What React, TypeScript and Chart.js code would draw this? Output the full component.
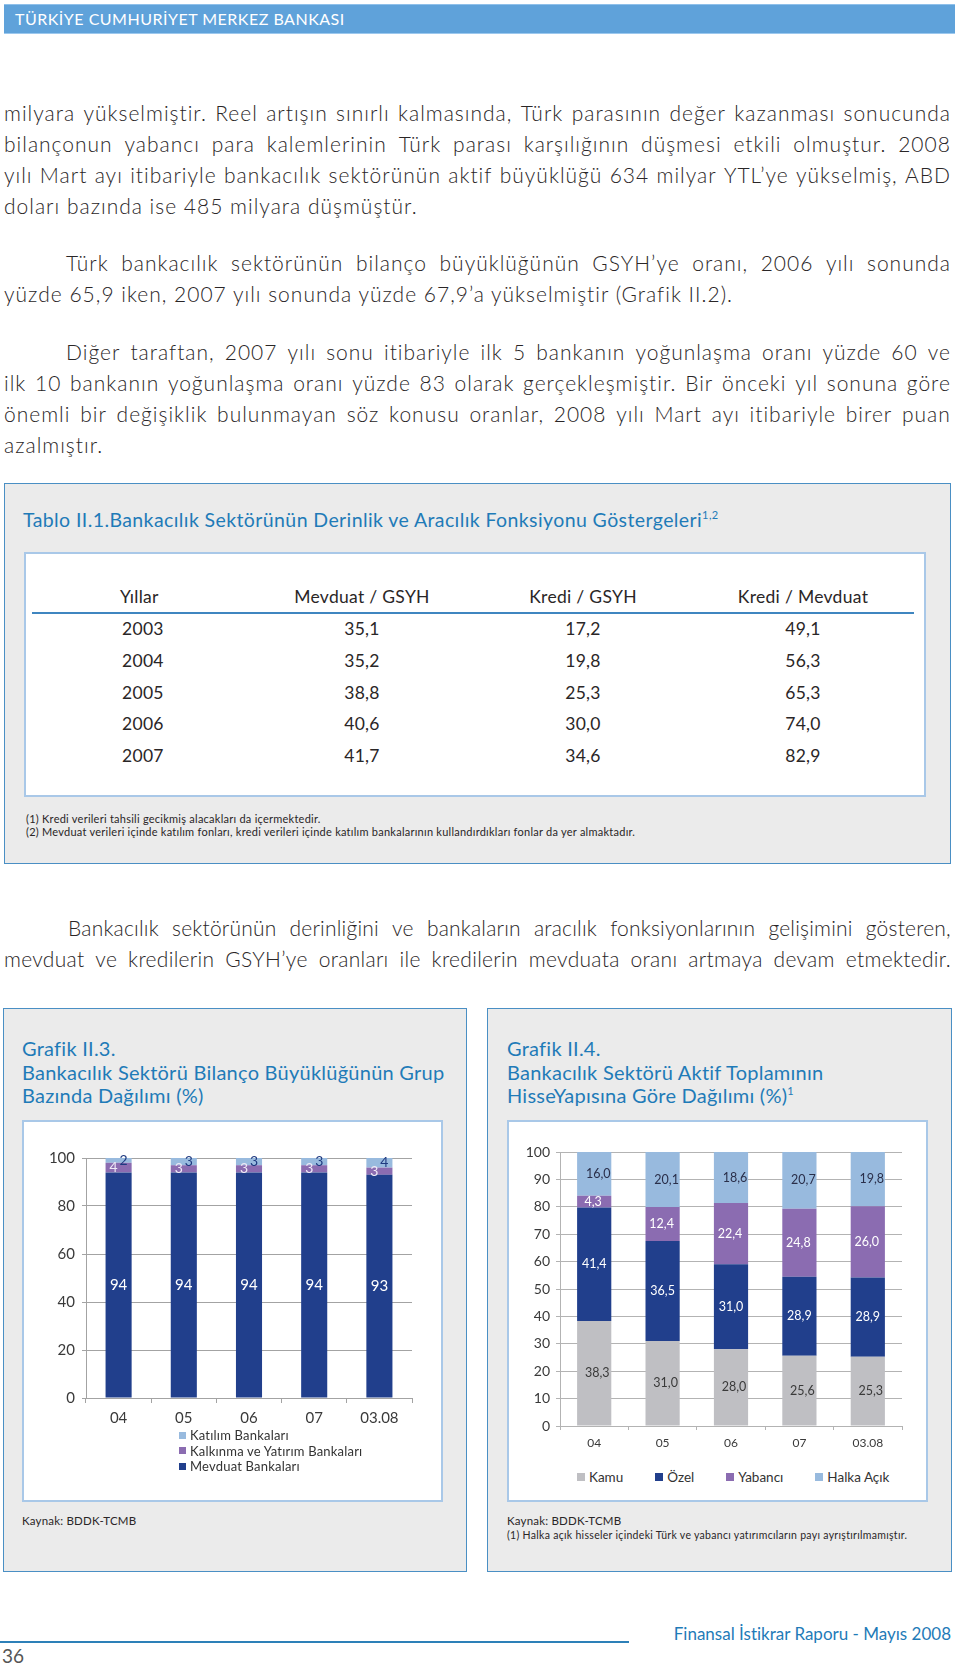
import React, { useEffect, useRef } from 'react';
import { Chart, registerables } from 'chart.js';

Chart.register(...registerables);

const FONT = 'Lato, "Open Sans", sans-serif';

// ---------- Table data ----------
const tableYears = ['2003', '2004', '2005', '2006', '2007'];
const mevduatGsyh = [35.1, 35.2, 38.8, 40.6, 41.7];
const krediGsyh = [17.2, 19.8, 25.3, 30.0, 34.6];
const krediMevduat = [49.1, 56.3, 65.3, 74.0, 82.9];
const tableHeaders = ['Yıllar', 'Mevduat / GSYH', 'Kredi / GSYH', 'Kredi / Mevduat'];

// ---------- Grafik II.3 data ----------
const leftCategories = ['04', '05', '06', '07', '03.08'];
const leftSeriesNames = ['Mevduat Bankaları', 'Kalkınma ve Yatırım Bankaları', 'Katılım Bankaları'];
const mevduatBankalari = [94, 94, 94, 94, 93];
const kalkinmaYatirim = [4, 3, 3, 3, 3];
const katilimBankalari = [2, 3, 3, 3, 4];
const leftYTicks = [0, 20, 40, 60, 80, 100];

// ---------- Grafik II.4 data ----------
const rightCategories = ['04', '05', '06', '07', '03.08'];
const rightSeriesNames = ['Kamu', 'Özel', 'Yabancı', 'Halka Açık'];
const kamu = [38.3, 31.0, 28.0, 25.6, 25.3];
const ozel = [41.4, 36.5, 31.0, 28.9, 28.9];
const yabanci = [4.3, 12.4, 22.4, 24.8, 26.0];
const halkaAcik = [16.0, 20.1, 18.6, 20.7, 19.8];
const rightYTicks = [0, 10, 20, 30, 40, 50, 60, 70, 80, 90, 100];

// ---------- colours ----------
const NAVY = '#213f8c';
const PURPLE = '#8b6cb1';
const LIGHTBLUE = '#98bade';
const GRAY = '#bfbfc3';
const TEAL = '#1f7bb8';
const BOXBORDER = '#4a8fc4';
const TEXT = '#2a2627';

const fmtComma = (v: number) => v.toFixed(1).replace('.', ',');

function makeLabelPlugin(style: { colors: string[]; dx: number[]; size: number[]; fmt: (v: number) => string }) {
  return {
    id: 'barLabels',
    afterDatasetsDraw(chart: any) {
      const ctx = chart.ctx;
      chart.data.datasets.forEach((ds: any, i: number) => {
        const meta = chart.getDatasetMeta(i);
        meta.data.forEach((bar: any, j: number) => {
          const v = ds.data[j];
          const p = bar.getProps(['x', 'y', 'base'], true);
          ctx.save();
          ctx.font = `${style.size[i]}px ${FONT}`;
          ctx.fillStyle = style.colors[i];
          ctx.textAlign = 'center';
          ctx.textBaseline = 'middle';
          ctx.fillText(style.fmt(v), p.x + style.dx[i], (p.y + p.base) / 2);
          ctx.restore();
        });
      });
    },
  };
}

function StackedChart(props: {
  categories: string[];
  series: { label: string; data: number[]; color: string }[];
  yTicks: number[];
  width: number;
  height: number;
  padTop: number;
  padRight: number;
  yWidth: number;
  xHeight: number;
  xFont: number;
  yFont: number;
  xPad: number;
  yPad: number;
  xTickLen: number;
  yTickLen: number;
  barPct: number;
  gridColor: string;
  labelStyle: any;
}) {
  const ref = useRef<HTMLCanvasElement>(null);
  useEffect(() => {
    if (!ref.current) return;
    const yt = props.yTicks;
    const chart = new Chart(ref.current, {
      type: 'bar',
      data: {
        labels: props.categories,
        datasets: props.series.map((s) => ({
          label: s.label,
          data: s.data,
          backgroundColor: s.color,
          borderWidth: 0,
          categoryPercentage: 1,
          barPercentage: props.barPct,
        })),
      },
      options: {
        animation: false,
        responsive: false,
        maintainAspectRatio: false,
        devicePixelRatio: 1,
        layout: { padding: { top: props.padTop, right: props.padRight, left: 0, bottom: 0 } },
        plugins: { legend: { display: false }, tooltip: { enabled: false } },
        scales: {
          x: {
            stacked: true,
            grid: { drawOnChartArea: false, tickLength: props.xTickLen, color: props.gridColor, offset: true },
            border: { color: props.gridColor },
            ticks: { font: { family: FONT, size: props.xFont }, color: '#3a3a3a', padding: props.xPad, maxRotation: 0 },
            afterFit: (s: any) => {
              s.height = props.xHeight;
            },
          },
          y: {
            stacked: true,
            min: yt[0],
            max: yt[yt.length - 1],
            grid: { color: props.gridColor, tickLength: props.yTickLen },
            border: { color: props.gridColor },
            ticks: { font: { family: FONT, size: props.yFont }, color: '#3a3a3a', padding: props.yPad },
            afterBuildTicks: (s: any) => {
              s.ticks = yt.map((v) => ({ value: v }));
            },
            afterFit: (s: any) => {
              s.width = props.yWidth;
            },
          },
        },
      } as any,
      plugins: [makeLabelPlugin(props.labelStyle)],
    });
    return () => chart.destroy();
  }, []);
  return (
    <canvas
      ref={ref}
      width={props.width}
      height={props.height}
      style={{ width: props.width, height: props.height, display: 'block' }}
    />
  );
}

function Txt(props: {
  x: number;
  cy: number;
  w?: number;
  size: number;
  color?: string;
  align?: 'left' | 'center' | 'right';
  lh?: number;
  ls?: number;
  weight?: number;
  children: any;
}) {
  const lh = props.lh ?? Math.round(props.size * 1.5);
  return (
    <div
      style={{
        position: 'absolute',
        left: props.x,
        top: props.cy - lh / 2,
        width: props.w,
        height: lh,
        lineHeight: `${lh}px`,
        fontSize: props.size,
        fontFamily: FONT,
        fontWeight: props.weight ?? 400,
        letterSpacing: props.ls ?? 0,
        fontVariantLigatures: 'none',
        color: props.color ?? TEXT,
        textAlign: props.align ?? 'left',
        whiteSpace: 'nowrap',
        overflow: 'visible',
      }}
    >
      {props.children}
    </div>
  );
}

const BODY = 21;
const BODY_LS = 1.0;
const RIGHT = 951;

type PLine = { x: number; cy: number; t: string; last?: boolean; ls?: number };

function Para({ lines }: { lines: PLine[] }) {
  return (
    <>
      {lines.map((l, i) => {
        const ls = l.ls ?? BODY_LS;
        if (l.last) {
          return (
            <Txt key={i} x={l.x} cy={l.cy} size={BODY} ls={ls} weight={300} lh={30}>
              {l.t}
            </Txt>
          );
        }
        const words = l.t.split(' ');
        return (
          <div
            key={i}
            style={{
              position: 'absolute',
              left: l.x,
              top: l.cy - 15,
              width: RIGHT - l.x,
              height: 30,
              lineHeight: '30px',
              display: 'flex',
              justifyContent: 'space-between',
              fontSize: BODY,
              fontFamily: FONT,
              fontWeight: 300,
              letterSpacing: ls,
              fontVariantLigatures: 'none',
              color: TEXT,
              whiteSpace: 'nowrap',
            }}
          >
            {words.map((w, k) => (
              <span key={k}>{w}</span>
            ))}
          </div>
        );
      })}
    </>
  );
}

function Box(props: { x: number; y: number; w: number; h: number; bg: string; border: string; bw: number }) {
  return (
    <div
      style={{
        position: 'absolute',
        left: props.x,
        top: props.y,
        width: props.w,
        height: props.h,
        background: props.bg,
        border: `${props.bw}px solid ${props.border}`,
        boxSizing: 'border-box',
      }}
    />
  );
}

export default function App() {
  const colCenters = [0, 362, 583, 803];
  const rowCenters = [629, 661, 693, 724, 756];
  const leftSeries = [
    { label: leftSeriesNames[0], data: mevduatBankalari, color: NAVY },
    { label: leftSeriesNames[1], data: kalkinmaYatirim, color: PURPLE },
    { label: leftSeriesNames[2], data: katilimBankalari, color: LIGHTBLUE },
  ];
  const rightSeries = [
    { label: rightSeriesNames[0], data: kamu, color: GRAY },
    { label: rightSeriesNames[1], data: ozel, color: NAVY },
    { label: rightSeriesNames[2], data: yabanci, color: PURPLE },
    { label: rightSeriesNames[3], data: halkaAcik, color: LIGHTBLUE },
  ];
  const TITLE = 20;
  const TITLE_LS = 0.25;
  return (
    <div
      style={{
        position: 'absolute',
        left: 0,
        top: 0,
        width: 960,
        height: 1670,
        overflow: 'hidden',
        background: '#ffffff',
        fontFamily: FONT,
      }}
    >
      {/* header bar */}
      <div
        style={{
          position: 'absolute',
          left: 4,
          top: 4,
          width: 951,
          height: 30,
          background: '#5fa2da',
          borderTop: '1px solid #8fc0ea',
          borderBottom: '1px solid #9cc8ee',
          boxSizing: 'border-box',
        }}
      />
      <Txt x={15} cy={19} size={16} ls={0.5} color="#ffffff">
        TÜRKİYE CUMHURİYET MERKEZ BANKASI
      </Txt>

      <Para
        lines={[
          { x: 4, cy: 113, t: 'milyara yükselmiştir. Reel artışın sınırlı kalmasında, Türk parasının değer kazanması sonucunda' },
          { x: 4, cy: 144, t: 'bilançonun yabancı para kalemlerinin Türk parası karşılığının düşmesi etkili olmuştur. 2008' },
          { x: 4, cy: 175, t: 'yılı Mart ayı itibariyle bankacılık sektörünün aktif büyüklüğü 634 milyar YTL’ye yükselmiş, ABD' },
          { x: 4, cy: 206, t: 'doları bazında ise 485 milyara düşmüştür.', last: true },
          { x: 66, cy: 263, t: 'Türk bankacılık sektörünün bilanço büyüklüğünün GSYH’ye oranı, 2006 yılı sonunda' },
          { x: 4, cy: 294, t: 'yüzde 65,9 iken, 2007 yılı sonunda yüzde 67,9’a yükselmiştir (Grafik II.2).', last: true },
          { x: 66, cy: 352, t: 'Diğer taraftan, 2007 yılı sonu itibariyle ilk 5 bankanın yoğunlaşma oranı yüzde 60 ve' },
          { x: 4, cy: 383, t: 'ilk 10 bankanın yoğunlaşma oranı yüzde 83 olarak gerçekleşmiştir. Bir önceki yıl sonuna göre' },
          { x: 4, cy: 414, t: 'önemli bir değişiklik bulunmayan söz konusu oranlar, 2008 yılı Mart ayı itibariyle birer puan' },
          { x: 4, cy: 445, t: 'azalmıştır.', last: true },
        ]}
      />

      {/* Table box */}
      <Box x={4} y={483} w={947} h={381} bg="#ebebeb" border={BOXBORDER} bw={1.5} />
      <Txt x={23} cy={519} size={19.5} ls={0.4} color={TEAL}>
        Tablo II.1.Bankacılık Sektörünün Derinlik ve Aracılık Fonksiyonu Göstergeleri
        <sup style={{ fontSize: 11, verticalAlign: 'top', lineHeight: '20px' }}>1,2</sup>
      </Txt>
      <Box x={24} y={552} w={902} h={245} bg="#ffffff" border="#a9c8e8" bw={2} />
      <Txt x={120} cy={597} size={17.5} ls={0.3}>
        {tableHeaders[0]}
      </Txt>
      {tableHeaders.slice(1).map((h, i) => (
        <Txt key={h} x={colCenters[i + 1] - 100} w={200} cy={597} size={17.5} ls={0.3} align="center">
          {h}
        </Txt>
      ))}
      <div style={{ position: 'absolute', left: 32, top: 612, width: 882, height: 2, background: '#3f86c0' }} />
      {tableYears.map((y, r) => (
        <React.Fragment key={y}>
          <Txt x={122} cy={rowCenters[r]} size={17.5} ls={0.3}>
            {y}
          </Txt>
          {[mevduatGsyh, krediGsyh, krediMevduat].map((arr, c) => (
            <Txt key={c} x={colCenters[c + 1] - 100} w={200} cy={rowCenters[r]} size={17.5} ls={0.3} align="center">
              {fmtComma(arr[r])}
            </Txt>
          ))}
        </React.Fragment>
      ))}
      <Txt x={26} cy={818} size={11} ls={0.25} lh={13}>
        (1) Kredi verileri tahsili gecikmiş alacakları da içermektedir.
      </Txt>
      <Txt x={26} cy={831} size={11} ls={0.25} lh={13}>
        (2) Mevduat verileri içinde katılım fonları, kredi verileri içinde katılım bankalarının kullandırdıkları fonlar da yer almaktadır.
      </Txt>

      <Para
        lines={[
          { x: 68, cy: 928, ls: 0.2, t: 'Bankacılık sektörünün derinliğini ve bankaların aracılık fonksiyonlarının gelişimini gösteren,' },
          { x: 4, cy: 959, ls: 0.3, t: 'mevduat ve kredilerin GSYH’ye oranları ile kredilerin mevduata oranı artmaya devam etmektedir.' },
        ]}
      />

      {/* Left chart box */}
      <Box x={3} y={1008} w={464} h={564} bg="#ebebeb" border={BOXBORDER} bw={1.5} />
      <Txt x={22} cy={1048} size={TITLE} ls={TITLE_LS} color={TEAL} lh={24}>
        Grafik II.3.
      </Txt>
      <Txt x={22} cy={1072} size={TITLE} ls={TITLE_LS} color={TEAL} lh={24}>
        Bankacılık Sektörü Bilanço Büyüklüğünün Grup
      </Txt>
      <Txt x={22} cy={1095} size={TITLE} ls={TITLE_LS} color={TEAL} lh={24}>
        Bazında Dağılımı (%)
      </Txt>
      <Box x={22} y={1120} w={421} h={382} bg="#ffffff" border="#a9c8e8" bw={2} />
      <div style={{ position: 'absolute', left: 23, top: 1122 }}>
        <StackedChart
          categories={leftCategories}
          series={leftSeries}
          yTicks={leftYTicks}
          width={418}
          height={316}
          padTop={36}
          padRight={29}
          yWidth={63}
          xHeight={40}
          xFont={15}
          yFont={15}
          xPad={6}
          yPad={7}
          xTickLen={5}
          yTickLen={4}
          barPct={0.4}
          gridColor="#a3a3a3"
          labelStyle={{
            colors: ['#ffffff', '#efe9f6', '#1f3a80'],
            dx: [0, -5, 5],
            size: [15, 14, 14],
            fmt: (v: number) => String(v),
          }}
        />
      </div>
      {leftSeries
        .slice()
        .reverse()
        .map((s, i) => (
          <div
            key={s.label}
            style={{ position: 'absolute', left: 179, top: 1435 + i * 15.5 - 8, height: 16, display: 'flex', alignItems: 'center' }}
          >
            <div style={{ width: 7, height: 7, background: s.color, marginRight: 4 }} />
            <span style={{ fontFamily: FONT, fontSize: 13, letterSpacing: 0.2, color: '#333', lineHeight: '16px' }}>{s.label}</span>
          </div>
        ))}
      <Txt x={22} cy={1521} size={11.5} ls={0.2} lh={14}>
        Kaynak: BDDK-TCMB
      </Txt>

      {/* Right chart box */}
      <Box x={487} y={1008} w={465} h={564} bg="#ebebeb" border={BOXBORDER} bw={1.5} />
      <Txt x={507} cy={1048} size={TITLE} ls={TITLE_LS} color={TEAL} lh={24}>
        Grafik II.4.
      </Txt>
      <Txt x={507} cy={1072} size={TITLE} ls={TITLE_LS} color={TEAL} lh={24}>
        Bankacılık Sektörü Aktif Toplamının
      </Txt>
      <Txt x={507} cy={1095} size={TITLE} ls={TITLE_LS} color={TEAL} lh={24}>
        HisseYapısına Göre Dağılımı (%)
        <sup style={{ fontSize: 11, verticalAlign: 'top', lineHeight: '16px' }}>1</sup>
      </Txt>
      <Box x={507} y={1120} w={421} h={382} bg="#ffffff" border="#a9c8e8" bw={2} />
      <div style={{ position: 'absolute', left: 509, top: 1122 }}>
        <StackedChart
          categories={rightCategories}
          series={rightSeries}
          yTicks={rightYTicks}
          width={416}
          height={344}
          padTop={30}
          padRight={23}
          yWidth={51}
          xHeight={40}
          xFont={12}
          yFont={14}
          xPad={6}
          yPad={6}
          xTickLen={4}
          yTickLen={4}
          barPct={0.5}
          gridColor="#b3b3b3"
          labelStyle={{
            colors: ['#3a3a3a', '#ffffff', '#ffffff', '#2a2f4a'],
            dx: [3, 0, -1, 4],
            size: [12.5, 12.5, 12.5, 12.5],
            fmt: fmtComma,
          }}
        />
      </div>
      <div style={{ position: 'absolute', left: 577, top: 1469, height: 16, display: 'flex', alignItems: 'center', gap: 32 }}>
        {rightSeries.map((s) => (
          <div key={s.label} style={{ display: 'flex', alignItems: 'center' }}>
            <div style={{ width: 8, height: 8, background: s.color, marginRight: 4 }} />
            <span style={{ fontFamily: FONT, fontSize: 13.5, color: '#333', lineHeight: '16px' }}>{s.label}</span>
          </div>
        ))}
      </div>
      <Txt x={507} cy={1521} size={11.5} ls={0.2} lh={14}>
        Kaynak: BDDK-TCMB
      </Txt>
      <Txt x={507} cy={1535} size={10.5} ls={0.3} lh={13}>
        (1) Halka açık hisseler içindeki Türk ve yabancı yatırımcıların payı ayrıştırılmamıştır.
      </Txt>

      {/* footer */}
      <div style={{ position: 'absolute', left: 0, top: 1641, width: 629, height: 2, background: '#2d80b8' }} />
      <Txt x={600} w={351} cy={1634} size={17} color={TEAL} align="right">
        Finansal İstikrar Raporu - Mayıs 2008
      </Txt>
      <Txt x={2} cy={1656} size={19} lh={24} color="#555">
        36
      </Txt>
    </div>
  );
}
